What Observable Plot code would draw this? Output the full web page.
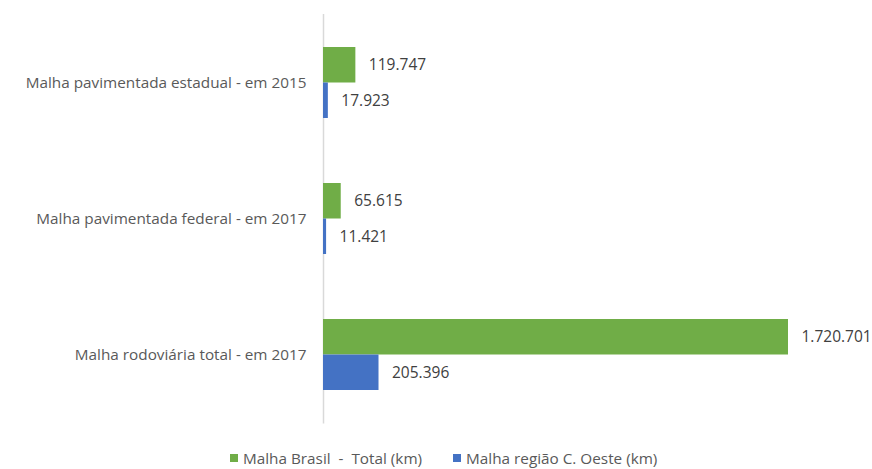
<!DOCTYPE html>
<html>
<head>
<meta charset="utf-8">
<script src="https://cdn.jsdelivr.net/npm/d3@7"></script>
<script src="https://cdn.jsdelivr.net/npm/@observablehq/plot@0.6"></script>
<style>
  html, body { margin: 0; padding: 0; background: #fff; }
  #chart svg { display: block; }
  #legend { position: absolute; left: 0; top: 449px; height: 18px; line-height: 18px; display: flex; align-items: center; padding-left: 230px; font-family: "Open Sans", sans-serif; font-size: 15.3px; color: #595959; white-space: pre; }
  #legend .item { display: flex; align-items: center; margin-right: 31px; }
  #legend .sw { width: 8px; height: 8px; margin-right: 5px; }
</style>
</head>
<body>
<div id="chart"></div>
<div id="legend"></div>
<script>
const categories = [
  "Malha pavimentada estadual - em 2015",
  "Malha pavimentada federal - em 2017",
  "Malha rodoviária total - em 2017"
];
const series = ["Malha Brasil  -  Total (km)", "Malha região C. Oeste (km)"];
const brasil = [119747, 65615, 1720701];
const oeste = [17923, 11421, 205396];
const colors = ["#70AD47", "#4472C4"];

const rowsB = categories.map((c, i) => ({category: c, series: series[0], value: brasil[i]}));
const rowsO = categories.map((c, i) => ({category: c, series: series[1], value: oeste[i]}));

const fmt = d3.formatLocale({decimal: ",", thousands: ".", grouping: [3], currency: ["R$", ""]}).format(",d");

const half = 35.5;
const chart = Plot.plot({
  width: 872,
  height: 440,
  marginLeft: 323,
  marginRight: 84,
  marginTop: 14,
  marginBottom: 16.5,
  style: {fontFamily: "'Open Sans', sans-serif", fontSize: "15.3px", color: "#595959", background: "#fff"},
  x: {domain: [0, d3.max(brasil)], axis: null},
  y: {domain: categories, paddingInner: 0.48, paddingOuter: 0.24, tickSize: 0, tickPadding: 17, label: null},
  color: {domain: series, range: colors},
  marks: [
    Plot.ruleX([0], {stroke: "#d9d9d9", strokeWidth: 1.5}),
    Plot.barX(rowsB, {x: "value", y: "category", fill: "series", insetBottom: half}),
    Plot.barX(rowsO, {x: "value", y: "category", fill: "series", insetTop: half}),
    Plot.text(rowsB, {x: "value", y: "category", text: d => fmt(d.value), dx: 13, dy: -half / 2, textAnchor: "start", fill: "#404040", fontSize: 15.5}),
    Plot.text(rowsO, {x: "value", y: "category", text: d => fmt(d.value), dx: 13, dy: half / 2, textAnchor: "start", fill: "#404040", fontSize: 15.5})
  ]
});
document.getElementById("chart").appendChild(chart);

const legend = document.getElementById("legend");
series.forEach((s, i) => {
  const item = document.createElement("div");
  item.className = "item";
  const sw = document.createElement("span");
  sw.className = "sw";
  sw.style.background = colors[i];
  const t = document.createElement("span");
  t.textContent = s;
  item.appendChild(sw);
  item.appendChild(t);
  legend.appendChild(item);
});
</script>
</body>
</html>
